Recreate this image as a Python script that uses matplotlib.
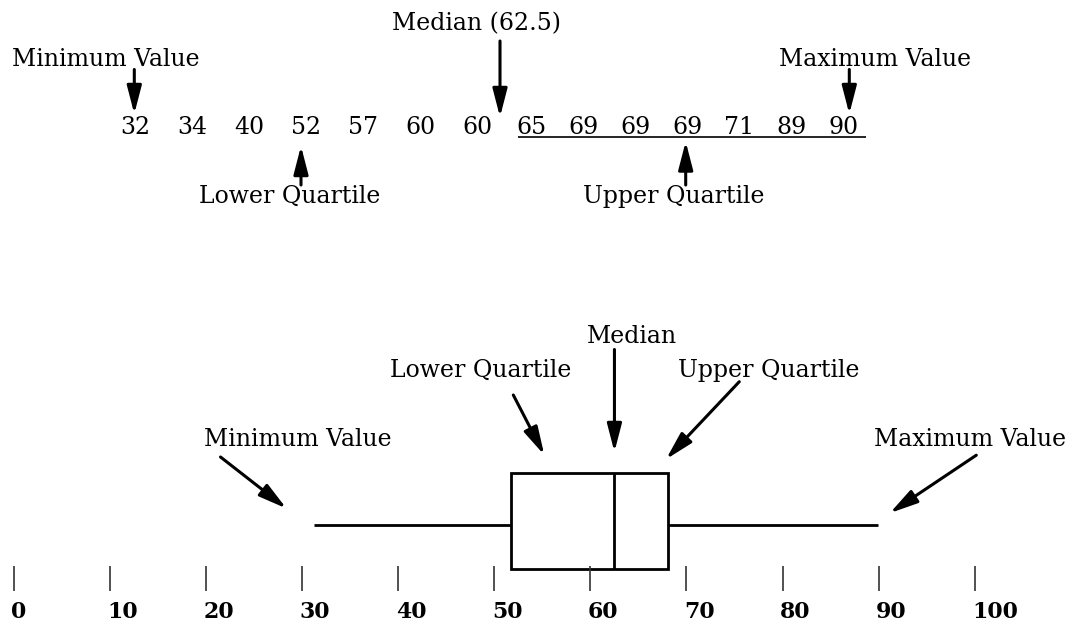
import matplotlib
matplotlib.use("Agg")
import matplotlib.pyplot as plt
from matplotlib.patches import Rectangle

# ---------------- data ----------------
values_lower_half = [32, 34, 40, 52, 57, 60, 60]
values_upper_half = [65, 69, 69, 69, 71, 89, 90]
median_value = 62.5
# five-number summary as drawn in the box plot
whisker_low = 31.2
quartile_low = 51.7
median_box = 62.5
quartile_high = 68.1
whisker_high = 89.9
axis_ticks = [0, 10, 20, 30, 40, 50, 60, 70, 80, 90, 100]
axis_tick_labels = ["0", "10", "20", "30", "40", "50", "60", "70", "80", "90", "100"]

# ---------------- layout ----------------
W, H = 1073, 622
X0 = 14.0          # pixel position of value 0
S = 9.607          # pixels per unit
FAMILY = ["DejaVu Serif"]

fig = plt.figure(figsize=(W / 100, H / 100), dpi=100)
ax = fig.add_axes([0, 0, 1, 1])
ax.set_xlim((0 - X0) / S, (W - X0) / S)
ax.set_ylim(H, 0)
ax.axis("off")


def px(x):
    return (x - X0) / S


# fit font size so that "Minimum Value" is ~188 px wide
r = fig.canvas.get_renderer()
tmp = ax.text(0, 0, "Minimum Value", fontsize=17, family=FAMILY)
w = tmp.get_window_extent(renderer=r).width
tmp.remove()
FS = 17 * 188.0 / w


def label(x, y, s, ha="center", **kw):
    ax.text(px(x), y, s, ha=ha, va="baseline", fontsize=FS, family=FAMILY,
            color="black", **kw)


def arrow(tail, tip):
    ax.annotate("", xy=(px(tip[0]), tip[1]), xytext=(px(tail[0]), tail[1]),
                arrowprops=dict(arrowstyle="-|>,head_length=0.85,head_width=0.22",
                                mutation_scale=20, lw=2.2, color="black",
                                shrinkA=0, shrinkB=0))


# ---------------- top: ordered data ----------------
num_base = 134
for i, v in enumerate(values_lower_half):
    label(135 + 57 * i, num_base, str(v))
for i, v in enumerate(values_upper_half):
    label(531.7 + 51.9 * i, num_base, str(v))
ax.plot([px(518), px(866)], [136.5, 136.5], color="black", lw=1.2,
        solid_capstyle="butt")

label(476, 30.5, f"Median ({median_value})")
label(106, 65.5, "Minimum Value")
label(875.5, 65.5, "Maximum Value")
label(290, 202.5, "Lower Quartile")
label(674, 202.5, "Upper Quartile")

arrow((500, 41), (500, 117))
arrow((134.3, 69.5), (134.3, 114))
arrow((849.3, 69.5), (849.3, 114))
arrow((301, 185), (301, 146))
arrow((685.7, 185), (685.7, 141.5))

# ---------------- bottom: box plot ----------------
box_top, box_bottom, whisker_y = 473, 569, 525
ax.add_patch(Rectangle((quartile_low, box_top), quartile_high - quartile_low,
                       box_bottom - box_top, fill=False, lw=2.0,
                       edgecolor="black", joinstyle="miter"))
ax.vlines(median_box, box_top, box_bottom, color="black", lw=2.0)
ax.hlines([whisker_y, whisker_y], [whisker_low, quartile_high],
          [quartile_low, whisker_high], color="black", lw=2.0)

label(631.5, 342.7, "Median")
label(481, 377.3, "Lower Quartile")
label(768.6, 377.3, "Upper Quartile")
label(297.5, 445.7, "Minimum Value")
label(970, 446, "Maximum Value")

med_px = X0 + S * median_box
arrow((med_px, 349.5), (med_px, 452))
arrow((513.3, 395), (544.3, 455))
arrow((739.3, 381.7), (666, 459.3))
arrow((220.5, 457), (286.5, 508.5))
arrow((976.3, 455.2), (889.8, 513.1))

# axis ticks drawn as short bars with labels
ax.vlines(axis_ticks, 566, 591, color="#333333", lw=1.2)
for t, s in zip(axis_ticks, axis_tick_labels):
    ax.text(t - 2.5 / S, 618.3, s, ha="left", va="baseline",
            fontsize=FS * 0.93, family=FAMILY, fontweight="bold", color="black")

fig.savefig("out.png", dpi=100)
